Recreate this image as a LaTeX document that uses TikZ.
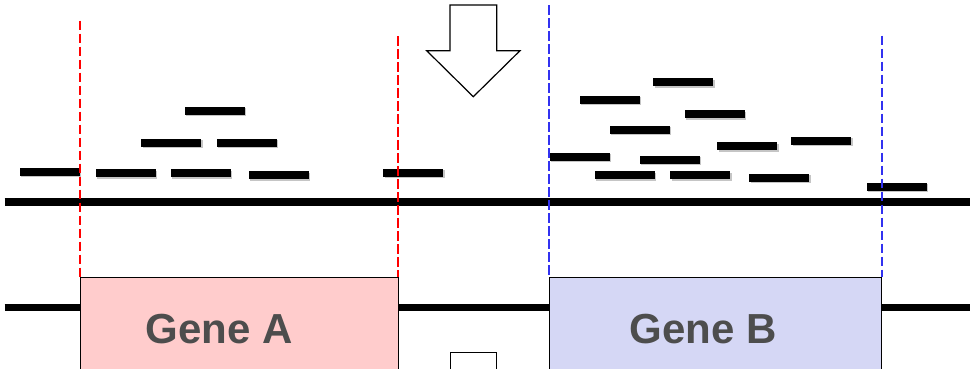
\documentclass[tikz,border=0pt]{standalone}
\usepackage{fontspec}
\setmainfont{Liberation Sans}
\definecolor{geneA}{HTML}{FFCCCC}
\definecolor{geneB}{HTML}{D5D7F5}
\definecolor{labelgray}{HTML}{4D4D4D}
\definecolor{bndred}{RGB}{255,0,0}
\definecolor{bndblue}{RGB}{50,50,240}
\begin{document}
\begin{tikzpicture}[x=1pt,y=-1pt,
  readbar/.style={draw=none,fill=black,minimum width=60pt,minimum height=8pt,inner sep=0pt,
    preaction={fill=black!45,opacity=0.5,transform canvas={shift={(1.2pt,-1.2pt)}}}},
  axis/.style={line width=7.7pt},
  genebox/.style={draw=black,line width=1pt},
  genelabel/.style={font=\bfseries\fontsize{42}{42}\selectfont,text=labelgray,anchor=base,inner sep=0pt},
  bound/.style={line width=1.8pt,dash pattern=on 9.5pt off 3.5pt},
  bigarrow/.style={draw=black,line width=1.2pt,fill=white,line join=miter}]
\useasboundingbox (0,0) rectangle (970,368);
\clip (0,0) rectangle (970,368);
% genome axes
\coordinate (t0) at (4.5,202);
\coordinate (t1) at (972,202);
\coordinate (b0) at (4.5,307.5);
\coordinate (b1) at (972,307.5);
\draw[axis] (t0) -- (t1);
\draw[axis] (b0) -- (b1);
% gene boxes
\coordinate (a0) at (80,277.3);
\coordinate (a1) at (398.3,380);
\coordinate (c0) at (549.3,277.3);
\coordinate (c1) at (881.7,380);
\draw[genebox,fill=geneA] (a0) rectangle (a1);
\draw[genebox,fill=geneB] (c0) rectangle (c1);
\node[genelabel] (la) at (219,343.3) {Gene A};
\node[genelabel] (lb) at (703,343.3) {Gene B};
% boundaries
\coordinate (ra0) at (80,20.7);
\coordinate (ra1) at (80,277.3);
\coordinate (rb0) at (398.3,36);
\coordinate (rb1) at (398.3,277.3);
\coordinate (ba0) at (549.3,5);
\coordinate (ba1) at (549.3,277.3);
\coordinate (bb0) at (881.7,35.7);
\coordinate (bb1) at (881.7,277.3);
% reads (left)
\node[readbar] (r1) at (50,171.7) {};
\node[readbar] (r2) at (125.7,173.3) {};
\node[readbar] (r3) at (201,173.3) {};
\node[readbar] (r4) at (278.7,175.3) {};
\node[readbar] (r5) at (413.3,173) {};
\node[readbar] (r6) at (171.3,143) {};
\node[readbar] (r7) at (246.7,143) {};
\node[readbar] (r8) at (214.7,111) {};
% reads (right)
\node[readbar] (s1) at (683.3,82.3) {};
\node[readbar] (s2) at (609.7,99.7) {};
\node[readbar] (s3) at (715,114.3) {};
\node[readbar] (s4) at (639.7,129.7) {};
\node[readbar] (s5) at (747.3,146.3) {};
\node[readbar] (s6) at (821.3,141) {};
\node[readbar] (s7) at (579.7,156.7) {};
\node[readbar] (s8) at (670,159.7) {};
\node[readbar] (s9) at (625,175.3) {};
\node[readbar] (s10) at (700.3,175.3) {};
\node[readbar] (s11) at (779.3,178) {};
\node[readbar] (s12) at (897,186.7) {};
% dashed boundaries on top
\draw[bound,color=bndred] (ra0) -- (ra1);
\draw[bound,color=bndred] (rb0) -- (rb1);
\draw[bound,color=bndblue] (ba0) -- (ba1);
\draw[bound,color=bndblue] (bb0) -- (bb1);
% arrows
\draw[bigarrow] (450,5) -- (496.7,5) -- (496.7,50.7) -- (520,50.7) -- (473.3,96.7) -- (426.7,50.7) -- (450,50.7) -- cycle;
\draw[bigarrow] (450.7,375) -- (450.7,352.7) -- (496.7,352.7) -- (496.7,375);
\end{tikzpicture}
\end{document}
